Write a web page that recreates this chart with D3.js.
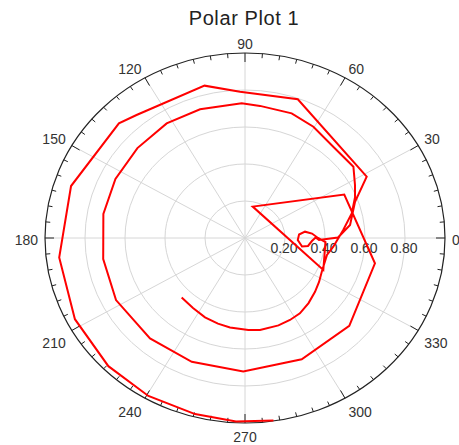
<!DOCTYPE html>
<html>
<head>
<meta charset="utf-8">
<script src="https://cdn.jsdelivr.net/npm/d3@7"></script>
<style>
  body { margin: 0; background: #fff; }
  svg { display: block; }
</style>
</head>
<body>
<script>
// spiral trace, angle in degrees and radius
const thetaDeg = [
  225.4, 235.5, 245.0, 253.7, 261.2, 271.9, 278.6, 289.5, 296.9, 304.0, 312.1, 320.3, 327.3, 334.6, 347.4, 353.9,
  5.0, 14.0, 21.9, 27.5, 35.4, 48.2, 60.4, 70.9, 84.0, 91.3, 107.9, 122.3, 137.9,
  153.8, 169.6, 189.1, 207.5, 228.8, 248.3, 269.3, 293.4, 317.7, 348.1,
  25.3, 77.2, 336.2, 356.9, 0.0, 4.1, 6.5, 4.0, 357.7, 350.8, 352.2, 357.2, 0.4,
  358.3, 0.3, 7.6, 19.6, 28.6, 70.6, 91.8, 103.8, 129.2, 135.5, 162.1, 186.5,
  207.3, 225.4, 240.5, 255.3, 267.4, 278.2
];
const radius = [
  0.451, 0.459, 0.473, 0.482, 0.489, 0.498, 0.503, 0.501, 0.497, 0.491, 0.474, 0.455, 0.440, 0.425, 0.420, 0.444,
  0.493, 0.550, 0.593, 0.620, 0.665, 0.662, 0.692, 0.713, 0.718, 0.728, 0.731, 0.733, 0.725,
  0.722, 0.720, 0.718, 0.727, 0.721, 0.720, 0.721, 0.714, 0.705, 0.664,
  0.549, 0.174, 0.428, 0.403, 0.365, 0.336, 0.302, 0.271, 0.264, 0.289, 0.318, 0.335, 0.353,
  0.370, 0.465, 0.530, 0.584, 0.693, 0.795, 0.791, 0.848, 0.858, 0.884, 0.914, 0.935,
  0.957, 0.973, 0.981, 0.984, 0.993, 0.997
];

const angleTicks = [0, 30, 60, 90, 120, 150, 180, 210, 240, 270, 300, 330];
const radialTicks = [0.2, 0.4, 0.6, 0.8];
const radialLabels = ['0.20', '0.40', '0.60', '0.80'];

const width = 459, height = 445;
const cx = 245, cy = 238;

const svg = d3.select('body').append('svg')
  .attr('width', width)
  .attr('height', height);

// plot is slightly squashed vertically, so two radius scales
const rX = d3.scaleLinear().domain([0, 1]).range([0, 200]);
const rY = d3.scaleLinear().domain([0, 1]).range([0, 185]);
const rad = d => d * Math.PI / 180;
const px = (t, r) => cx + rX(r) * Math.cos(rad(t));
const py = (t, r) => cy - rY(r) * Math.sin(rad(t));

// title
svg.append('text')
  .attr('x', 244)
  .attr('y', 25)
  .attr('text-anchor', 'middle')
  .style('font-family', 'Liberation Sans, Arial, sans-serif')
  .style('font-size', '20px')
  .style('letter-spacing', '0.6px')
  .attr('fill', '#222')
  .text('Polar Plot 1');

// grid rings
svg.selectAll('ellipse.grid')
  .data(radialTicks)
  .join('ellipse')
  .attr('class', 'grid')
  .attr('cx', cx)
  .attr('cy', cy)
  .attr('rx', d => rX(d))
  .attr('ry', d => rY(d))
  .attr('fill', 'none')
  .attr('stroke', '#d6d6d6')
  .attr('stroke-width', 1);

// spokes
svg.selectAll('line.spoke')
  .data(angleTicks)
  .join('line')
  .attr('class', 'spoke')
  .attr('x1', cx)
  .attr('y1', cy)
  .attr('x2', d => px(d, 1))
  .attr('y2', d => py(d, 1))
  .attr('stroke', '#d6d6d6')
  .attr('stroke-width', 1);

// outer ring
svg.append('ellipse')
  .attr('cx', cx)
  .attr('cy', cy)
  .attr('rx', rX(1))
  .attr('ry', rY(1))
  .attr('fill', 'none')
  .attr('stroke', '#222')
  .attr('stroke-width', 1.2);

// tick marks, pointing inward
const minor = d3.range(0, 360, 5);
svg.selectAll('line.tick')
  .data(minor)
  .join('line')
  .attr('class', 'tick')
  .attr('x1', d => px(d, 1))
  .attr('y1', d => py(d, 1))
  .attr('x2', d => {
    const L = d % 30 === 0 ? 9 : 4.5;
    return cx + (rX(1) - L) * Math.cos(rad(d));
  })
  .attr('y2', d => {
    const L = d % 30 === 0 ? 9 : 4.5;
    return cy - (rY(1) - L) * Math.sin(rad(d));
  })
  .attr('stroke', '#222')
  .attr('stroke-width', 1);

// angle labels
svg.selectAll('text.ang')
  .data(angleTicks)
  .join('text')
  .attr('class', 'ang')
  .attr('text-anchor', d => {
    const c = Math.cos(rad(d));
    return c > 0.01 ? 'start' : (c < -0.01 ? 'end' : 'middle');
  })
  .attr('x', d => px(d, 1) + 7 * Math.cos(rad(d)))
  .attr('y', d => {
    const s = Math.sin(rad(d));
    const ey = py(d, 1);
    if (s > 0.01) return ey - 4 * s;
    if (s < -0.01) return ey + 6 - 3 * s + 10;
    return cy + 7;
  })
  .style('font-family', 'Liberation Sans, Arial, sans-serif')
  .style('font-size', '14px')
  .attr('fill', '#333')
  .text(d => d);

// radial labels along 0 deg
svg.selectAll('text.rad')
  .data(radialTicks)
  .join('text')
  .attr('class', 'rad')
  .attr('text-anchor', 'middle')
  .attr('x', d => px(0, d) - 1)
  .attr('y', cy + 14.5)
  .style('font-family', 'Liberation Sans, Arial, sans-serif')
  .style('font-size', '14px')
  .attr('fill', '#333')
  .text((d, i) => radialLabels[i]);

// spiral trace
const line = d3.line()
  .x(i => px(thetaDeg[i], radius[i]))
  .y(i => py(thetaDeg[i], radius[i]));

svg.append('path')
  .datum(d3.range(thetaDeg.length))
  .attr('d', line)
  .attr('fill', 'none')
  .attr('stroke', '#ff0000')
  .attr('stroke-width', 2)
  .attr('stroke-linejoin', 'miter');
</script>
</body>
</html>
